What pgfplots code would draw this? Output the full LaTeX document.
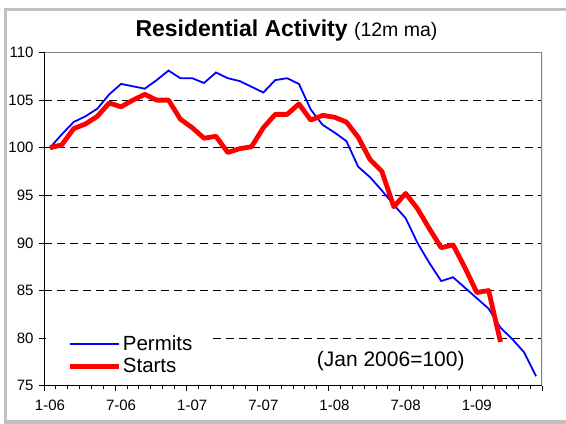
\documentclass[border=0pt]{standalone}
\usepackage{fontspec}
\setmainfont{Liberation Sans}
\usepackage{pgfplots}
\pgfplotsset{compat=1.18}
\definecolor{framegray}{HTML}{C0C0C0}
\definecolor{boxgray}{HTML}{808080}
\definecolor{permblue}{HTML}{0000FF}
\definecolor{startred}{HTML}{FF0000}
\begin{document}
\begin{tikzpicture}
\path[use as bounding box] (0bp,0bp) rectangle (566bp,424bp);
\draw[framegray, line width=3.5bp] (5.7bp,1.8bp) rectangle (580bp,414.7bp);
\node[anchor=base, inner sep=0pt] at (286.5bp,387bp) {\fontsize{23bp}{27bp}\selectfont\bfseries Residential Activity \fontsize{19.5bp}{23bp}\selectfont\mdseries(12m ma)};
\begin{axis}[
  at={(44bp,38.2bp)}, anchor=south west,
  scale only axis, width=498bp, height=333.3bp,
  xmin=-0.5, xmax=41.5, ymin=75, ymax=110,
  axis line style={draw=none},
  tick align=outside,
  major tick length=5bp, minor tick length=3.5bp,
  xtick pos=bottom, ytick pos=left,
  xtick={-0.5,5.5,...,41.5}, xticklabels={},
  minor xtick={0.5,1.5,...,40.5},
  extra x ticks={0,6,12,18,24,30,36},
  extra x tick labels={1-06,7-06,1-07,7-07,1-08,7-08,1-09},
  extra x tick style={major tick length=0pt, xticklabel style={yshift=-11bp}},
  ytick={75,80,...,110},
  yticklabel style={xshift=-2bp},
  every tick/.style={black, line width=0.8bp},
  tick label style={font=\fontsize{15bp}{18bp}\selectfont},
  /pgf/number format/assume math mode=true,
  legend style={at={(0.04,0.162)}, anchor=north west, draw=none, fill=none,
    font=\fontsize{20.5bp}{24bp}\selectfont, row sep=2.3bp, cells={anchor=west}},
  legend image code/.code={\draw[#1] (0bp,0bp) -- (49bp,0bp);},
  legend cell align=left,
]
\pgfplotsinvokeforeach{80,85,...,105}{
  \draw[black, line width=0.9bp, dash pattern=on 8bp off 5bp] (axis cs:-0.5,#1) -- (axis cs:41.5,#1);
}
\fill[white] (rel axis cs:0.004,0.012) rectangle (rel axis cs:0.337,0.182);
\addplot[permblue, line width=1.8bp] table {
x y
0 100.0
1 101.4
2 102.7
3 103.3
4 104.1
5 105.6
6 106.7
7 106.45
8 106.2
9 107.1
10 108.1
11 107.3
12 107.3
13 106.8
14 107.9
15 107.3
16 107.0
17 106.4
18 105.8
19 107.1
20 107.3
21 106.7
22 104.0
23 102.4
24 101.6
25 100.7
26 98.0
27 96.9
28 95.5
29 94.0
30 92.6
31 90.0
32 87.9
33 86.0
34 86.4
35 85.3
36 84.2
37 83.1
38 81.1
39 79.9
40 78.5
41 76.0
};
\addlegendentry{Permits}
\addplot[startred, line width=4.8bp, line join=round] table {
x y
0 100.0
1 100.3
2 102.0
3 102.5
4 103.3
5 104.7
6 104.3
7 105.0
8 105.6
9 105.0
10 105.0
11 103.0
12 102.1
13 101.0
14 101.2
15 99.5
16 99.9
17 100.1
18 102.1
19 103.5
20 103.5
21 104.6
22 102.9
23 103.4
24 103.2
25 102.7
26 101.1
27 98.75
28 97.5
29 93.8
30 95.2
31 93.6
32 91.5
33 89.5
34 89.8
35 87.4
36 84.8
37 85.0
38 79.6
};
\addlegendentry{Starts}
\draw[boxgray, line width=2bp] (rel axis cs:0,1) -- (rel axis cs:1,1) -- (rel axis cs:1,0);
\draw[black, line width=1.2bp] (rel axis cs:0,1) -- (rel axis cs:0,0) -- (rel axis cs:1,0);
\node[anchor=base west, inner sep=0pt, font=\fontsize{21bp}{24bp}\selectfont] at (rel axis cs:0.5476,0.0594) {(Jan 2006=100)};
\end{axis}
\end{tikzpicture}
\end{document}
